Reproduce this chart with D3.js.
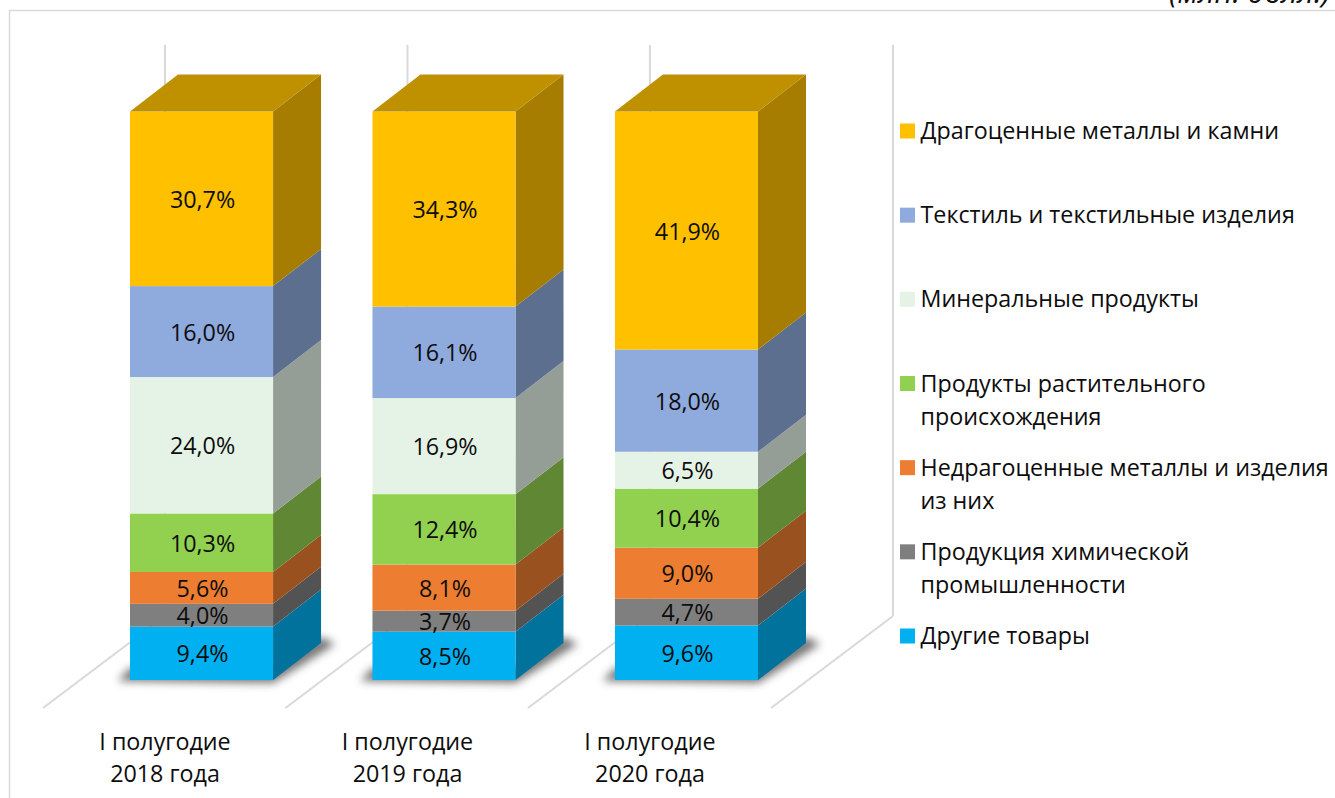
<!DOCTYPE html>
<html><head><meta charset="utf-8">
<script src="https://cdnjs.cloudflare.com/ajax/libs/d3/7.8.5/d3.min.js"></script>
<style>html,body{margin:0;padding:0;background:#fff;overflow:hidden}svg{display:block}text{font-family:"Open Sans",sans-serif;fill:#0d0d0d}</style>
</head><body><svg id="c" width="1335" height="798"></svg>
<script>
const periods = ["I полугодие 2018 года","I полугодие 2019 года","I полугодие 2020 года"];
const periodLines = [["I полугодие","2018 года"],["I полугодие","2019 года"],["I полугодие","2020 года"]];
const seriesNames = ["Другие товары","Продукция химической промышленности","Недрагоценные металлы и изделия из них","Продукты растительного происхождения","Минеральные продукты","Текстиль и текстильные изделия","Драгоценные металлы и камни"];
const legendLines = [["Другие товары"],["Продукция химической","промышленности"],["Недрагоценные металлы и изделия","из них"],["Продукты растительного","происхождения"],["Минеральные продукты"],["Текстиль и текстильные изделия"],["Драгоценные металлы и камни"]];
const colors = ["#00B0F0","#7F7F7F","#ED7D31","#92D050","#E5F3E6","#8FAADC","#FFC000"];
const values2018 = [9.4,4.0,5.6,10.3,24.0,16.0,30.7];
const values2019 = [8.5,3.7,8.1,12.4,16.9,16.1,34.3];
const values2020 = [9.6,4.7,9.0,10.4,6.5,18.0,41.9];
const unitNote = "(млн. долл.)";

const table = [values2018,values2019,values2020];
const rows = periods.map((p,i)=>{const o={period:p};seriesNames.forEach((s,j)=>o[s]=table[i][j]);return o;});
const svg = d3.select("#c");
const defs = svg.append("defs");
defs.append("filter").attr("id","blur").attr("x","-30%").attr("y","-100%").attr("width","160%").attr("height","300%")
  .append("feGaussianBlur").attr("stdDeviation",4);

const x = d3.scaleBand().domain(periods).range([130,758]).paddingInner(0.41).paddingOuter(0);
const y = d3.scaleLinear().domain([0,1]).range([680,111.6]);
const depth = {dx:48,dy:-37};
const stack = d3.stack().keys(seriesNames).offset(d3.stackOffsetExpand)(rows);
const dark = (c,k)=>{const r=d3.rgb(c);return d3.rgb(r.r*k,r.g*k,r.b*k).formatHex();};
const poly = pts=>pts.map(p=>p.join(",")).join(" ");

// frame
svg.append("path").attr("d","M9.5,798V10.5H1335").attr("fill","none").attr("stroke","#d9d9d9").attr("stroke-width",1.5);
// note, cut by the top of the picture as in the reference
svg.append("text").attr("x",1330).attr("y",3).attr("text-anchor","end").attr("font-style","italic").attr("font-size",30).text(unitNote);

// walls & floor
const wallXs = periods.map(p=>x(p)+35).concat([893]);
const wall = svg.append("g").attr("stroke","#d9d9d9").attr("stroke-width",2).attr("fill","none");
wallXs.forEach(wx=>{
  wall.append("line").attr("x1",wx).attr("x2",wx).attr("y1",45).attr("y2",616);
  wall.append("line").attr("x1",wx).attr("y1",616).attr("x2",wx-122).attr("y2",708);
});

// shadows
svg.append("g").attr("opacity",0.75).selectAll("polygon").data(periods).join("polygon")
  .attr("points",p=>{const a=x(p),b=a+x.bandwidth(),f=y(0);return poly([[a-12,f+1],[b,f+3],[b+depth.dx+14,f+depth.dy+1],[b+depth.dx,f+depth.dy-6],[b,f-12],[a,f-12]]);})
  .attr("fill","#444").attr("filter","url(#blur)");

// bars
const bars = svg.append("g");
stack.forEach((s,si)=>{
  const g = bars.append("g");
  g.selectAll("polygon.side").data(s).join("polygon").attr("class","side")
    .attr("points",d=>{const b=x(d.data.period)+x.bandwidth();return poly([[b,y(d[0])],[b+depth.dx,y(d[0])+depth.dy],[b+depth.dx,y(d[1])+depth.dy],[b,y(d[1])]]);})
    .attr("fill",dark(colors[si],0.65));
  g.selectAll("rect").data(s).join("rect")
    .attr("x",d=>x(d.data.period)).attr("width",x.bandwidth())
    .attr("y",d=>y(d[1])).attr("height",d=>y(d[0])-y(d[1]))
    .attr("fill",colors[si]);
  if(si===stack.length-1){
    g.selectAll("polygon.top").data(s).join("polygon").attr("class","top")
      .attr("points",d=>{const a=x(d.data.period),b=a+x.bandwidth(),t=y(d[1]);return poly([[a,t],[b,t],[b+depth.dx,t+depth.dy],[a+depth.dx,t+depth.dy]]);})
      .attr("fill",dark(colors[si],0.75));
  }
});
// value labels
const fmt = v=>v.toFixed(1).replace(".",",")+"%";
stack.forEach((s,si)=>{
  svg.append("g").selectAll("text").data(s).join("text")
    .attr("x",d=>x(d.data.period)+x.bandwidth()/2+1)
    .attr("y",d=>(y(d[0])+y(d[1]))/2+9)
    .attr("text-anchor","middle").attr("font-size",23.3)
    .text((d,i)=>fmt(table[i][si]));
});
// category labels
const cat = svg.append("g").selectAll("text").data(periods).join("text")
  .attr("text-anchor","middle").attr("font-size",23.3);
cat.each(function(p,i){
  d3.select(this).selectAll("tspan").data(periodLines[i]).join("tspan")
    .attr("x",x(p)+x.bandwidth()/2-36.5).attr("y",(d,k)=>750+k*32).text(d=>d);
});
// legend
const legendY = d3.scaleLinear().domain([0,6]).range([636,131]);
const leg = svg.append("g").selectAll("g").data(seriesNames).join("g").attr("transform",(d,i)=>`translate(900,${legendY(i)})`);
leg.append("rect").attr("y",-7.5).attr("width",15).attr("height",15).attr("fill",(d,i)=>colors[i]);
leg.append("text").attr("font-size",23.3).each(function(d,i){
  d3.select(this).selectAll("tspan").data(legendLines[i]).join("tspan").attr("x",20.5).attr("y",(t,k)=>8+k*33).text(t=>t);
});
</script></body></html>
